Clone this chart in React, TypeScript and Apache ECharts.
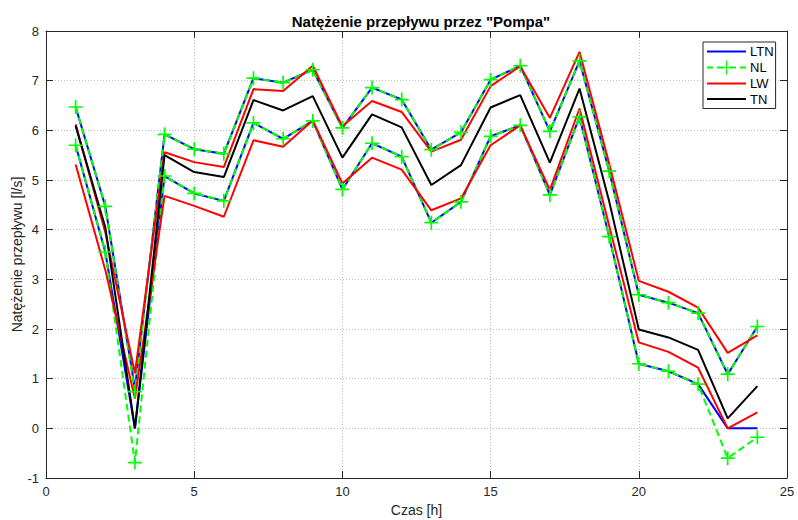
import React, { useEffect, useRef } from "react";
import * as echarts from "echarts";

const HOURS = [1, 2, 3, 4, 5, 6, 7, 8, 9, 10, 11, 12, 13, 14, 15, 16, 17, 18, 19, 20, 21, 22, 23, 24];

const LTN_UPPER = [6.47, 4.47, 0.8, 5.92, 5.62, 5.53, 7.05, 6.96, 7.22, 6.05, 6.86, 6.62, 5.61, 5.96, 7.02, 7.3, 5.98, 7.4, 5.18, 2.69, 2.53, 2.32, 1.09, 2.05];
const LTN_LOWER = [5.7, 3.55, 0.0, 5.08, 4.73, 4.58, 6.15, 5.83, 6.19, 4.81, 5.74, 5.47, 4.14, 4.56, 5.88, 6.1, 4.7, 6.27, 3.86, 1.3, 1.15, 0.89, 0.0, 0.0];
const NL_UPPER = [6.47, 4.47, 0.74, 5.92, 5.62, 5.53, 7.05, 6.96, 7.22, 6.05, 6.86, 6.62, 5.61, 5.96, 7.02, 7.3, 5.98, 7.4, 5.18, 2.69, 2.53, 2.32, 1.09, 2.05];
const NL_LOWER = [5.7, 3.55, -0.69, 5.08, 4.73, 4.58, 6.15, 5.83, 6.19, 4.81, 5.74, 5.47, 4.14, 4.56, 5.88, 6.1, 4.7, 6.27, 3.86, 1.3, 1.15, 0.89, -0.6, -0.18];
const LW_UPPER = [6.12, 3.95, 1.11, 5.56, 5.36, 5.26, 6.83, 6.79, 7.3, 6.08, 6.59, 6.37, 5.57, 5.81, 6.89, 7.29, 6.25, 7.58, 5.33, 2.97, 2.75, 2.43, 1.52, 1.87];
const LW_LOWER = [5.31, 3.19, 0.6, 4.68, 4.48, 4.26, 5.8, 5.67, 6.2, 4.93, 5.45, 5.21, 4.39, 4.63, 5.7, 6.1, 4.8, 6.44, 4.08, 1.73, 1.54, 1.22, 0.0, 0.32];
const TN = [6.09, 4.05, 0.0, 5.5, 5.16, 5.06, 6.61, 6.4, 6.69, 5.45, 6.32, 6.06, 4.9, 5.3, 6.46, 6.71, 5.35, 6.84, 4.57, 1.99, 1.83, 1.58, 0.2, 0.85];

const LEGEND_NAMES = ["LTN", "NL", "LW", "TN"];

const FONT = "'Liberation Sans', Arial, Helvetica, sans-serif";
const AXIS_COLOR = "#262626";
const PLUS = "path://M4.4,0H5.6V10H4.4ZM0,4.4H10V5.6H0Z";
const ICON_SOLID = "path://M0,6H39V8H0Z";
const ICON_DASHED =
  "path://M0,0H0.01V0.01H0ZM39,14H38.99V13.99H39Z" +
  "M0,6H6V8H0ZM10,6H16V8H10ZM23,6H29V8H23ZM33,6H39V8H33Z" +
  "M18.9,0H20.1V14H18.9ZM12.5,6.4H26.5V7.6H12.5Z";

const pairs = (ys: number[]) => HOURS.map((h, i) => [h, ys[i]]);

export default function App() {
  const ref = useRef<HTMLDivElement>(null);
  useEffect(() => {
    if (!ref.current) return;
    const chart = echarts.init(ref.current, null, { renderer: "svg" });

    const solid = (name: string, color: string, data: number[]) => ({
      type: "line",
      name,
      data: pairs(data),
      symbol: "none",
      showSymbol: false,
      lineStyle: { color, width: 2 },
      itemStyle: { color },
      emphasis: { disabled: true },
    });
    const dashed = (name: string, color: string, data: number[]) => ({
      type: "line",
      name,
      data: pairs(data),
      symbol: PLUS,
      symbolSize: 14,
      showSymbol: true,
      lineStyle: { color, width: 2, type: [7, 4] },
      itemStyle: { color, borderWidth: 0 },
      emphasis: { disabled: true },
    });

    const splitLine = { show: true, lineStyle: { color: "#bdbdbd", type: [1, 2], width: 1 } };

    chart.setOption({
      animation: false,
      backgroundColor: "#ffffff",
      title: {
        text: 'Natężenie przepływu przez "Pompa"',
        left: 416,
        textAlign: "center",
        top: 9,
        textStyle: { fontFamily: FONT, fontSize: 15, fontWeight: "bold", color: "#000" },
      },
      legend: {
        data: LEGEND_NAMES.map((n) => ({ name: n, icon: n === "NL" ? ICON_DASHED : ICON_SOLID })),
        orient: "vertical",
        left: 703,
        top: 42,
        itemWidth: 39,
        itemHeight: 14,
        itemGap: 2.5,
        padding: [3, 2, 3, 4],
        backgroundColor: "#fff",
        borderColor: AXIS_COLOR,
        borderWidth: 1,
        textStyle: { fontFamily: FONT, fontSize: 13, color: "#000", padding: [0, 0, 0, -1] },
        selectedMode: false,
      },
      grid: { left: 46, right: 11, top: 31, bottom: 42, show: false, containLabel: false, outerBoundsMode: "none" },
      xAxis: [
        {
          type: "value",
          min: 0,
          max: 25,
          interval: 5,
          name: "Czas [h]",
          nameLocation: "middle",
          nameGap: 25,
          nameMoveOverlap: false,
          nameTextStyle: { fontFamily: FONT, fontSize: 14, color: AXIS_COLOR },
          axisLine: { show: true, onZero: false, lineStyle: { color: AXIS_COLOR, width: 1 } },
          axisTick: { show: true, inside: true, length: 7, lineStyle: { color: AXIS_COLOR } },
          axisLabel: { fontFamily: FONT, fontSize: 13, color: AXIS_COLOR, margin: 7 },
          splitLine,
        },
        {
          type: "value",
          position: "top",
          min: 0,
          max: 25,
          interval: 5,
          axisLine: { show: true, onZero: false, lineStyle: { color: AXIS_COLOR, width: 1 } },
          axisTick: { show: true, inside: true, length: 7, lineStyle: { color: AXIS_COLOR } },
          axisLabel: { show: false },
          splitLine: { show: false },
        },
      ],
      yAxis: [
        {
          type: "value",
          min: -1,
          max: 8,
          interval: 1,
          name: "Natężenie przepływu [l/s]",
          nameLocation: "middle",
          nameGap: 22,
          nameMoveOverlap: false,
          nameTextStyle: { fontFamily: FONT, fontSize: 14, color: AXIS_COLOR },
          axisLine: { show: true, onZero: false, lineStyle: { color: AXIS_COLOR, width: 1 } },
          axisTick: { show: true, inside: true, length: 7, lineStyle: { color: AXIS_COLOR } },
          axisLabel: { fontFamily: FONT, fontSize: 13, color: AXIS_COLOR, margin: 7 },
          splitLine,
        },
        {
          type: "value",
          position: "right",
          min: -1,
          max: 8,
          interval: 1,
          axisLine: { show: true, onZero: false, lineStyle: { color: AXIS_COLOR, width: 1 } },
          axisTick: { show: true, inside: true, length: 7, lineStyle: { color: AXIS_COLOR } },
          axisLabel: { show: false },
          splitLine: { show: false },
        },
      ],
      series: [
        solid("LTN", "#0000FF", LTN_UPPER),
        solid("LTN", "#0000FF", LTN_LOWER),
        dashed("NL", "#00FF00", NL_UPPER),
        dashed("NL", "#00FF00", NL_LOWER),
        solid("LW", "#FF0000", LW_UPPER),
        solid("LW", "#FF0000", LW_LOWER),
        solid("TN", "#000000", TN),
      ],
    });
    return () => chart.dispose();
  }, []);

  return (
    <div
      ref={ref}
      style={{ position: "fixed", left: 0, top: 0, width: 798, height: 520, background: "#fff" }}
    />
  );
}
